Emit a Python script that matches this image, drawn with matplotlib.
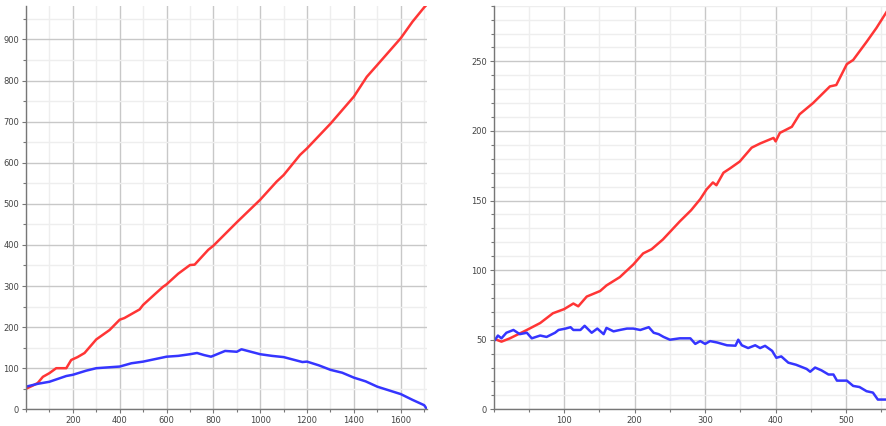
import matplotlib
matplotlib.use("Agg")
import matplotlib.pyplot as plt
from matplotlib.ticker import MultipleLocator

# left panel: values
left_red_x = [0, 30, 50, 72, 100, 129, 150, 172, 193, 220, 250, 300, 357, 400, 420,
              485, 500, 550, 585, 600, 650, 700, 720, 778, 800, 900, 1000, 1070,
              1100, 1170, 1200, 1300, 1400, 1455, 1500, 1600, 1650, 1700, 1712]
left_red_y = [50, 58, 64, 79, 88, 100, 100, 100, 120, 127, 137, 170, 193, 218, 222,
              243, 254, 280, 298, 304, 330, 351, 352, 388, 398, 455, 510, 554,
              570, 619, 635, 695, 761, 809, 838, 903, 943, 978, 985]

left_blue_x = [0, 50, 100, 172, 200, 257, 300, 350, 400, 450, 500, 600, 650, 700,
               730, 760, 790, 850, 900, 920, 1000, 1050, 1100, 1180, 1200, 1250,
               1300, 1350, 1400, 1450, 1500, 1550, 1600, 1650, 1700, 1712]
left_blue_y = [55, 62, 67, 81, 84, 94, 100, 102, 104, 112, 116, 128, 130, 134,
               137, 132, 128, 142, 140, 146, 134, 130, 127, 115, 116, 107,
               96, 89, 77, 68, 55, 46, 37, 23, 10, 0]

# right panel
right_red_x = [4, 11, 23, 35, 47, 66, 84, 100, 113, 120, 132, 151, 160, 179, 198,
               212, 224, 240, 264, 280, 293, 302, 311, 316, 326, 335, 349, 366,
               378, 397, 400, 406, 423, 434, 453, 467, 477, 486, 501, 510, 529,
               543, 558]
right_red_y = [50, 48.6, 51, 54, 57, 62, 69, 72, 76, 74, 81, 85, 89, 95, 104,
               112, 115, 122, 135, 143, 151, 158, 163, 161, 170, 173, 178, 188,
               191, 195, 192.5, 198.6, 203, 212, 220, 227, 232, 233, 248, 251,
               264, 274, 286]

right_blue_x = [2, 6, 11, 18, 28, 37, 47, 54, 66, 75, 87, 92, 102, 109, 113, 123,
                129, 139, 147, 156, 160, 170, 179, 189, 198, 208, 220, 227, 234,
                241, 250, 264, 279, 286, 293, 300, 307, 317, 331, 343, 347, 352,
                361, 371, 378, 385, 395, 401, 408, 418, 429, 444, 449, 456, 465,
                475, 482, 487, 501, 510, 519, 529, 538, 545, 558]
right_blue_y = [50, 53, 51, 55, 57, 54, 55, 51, 53, 52, 55, 57, 58, 59, 57, 57,
                60, 55, 58, 54, 58.5, 56, 57, 58, 58, 57, 59, 55, 54,
                52, 50, 51, 51, 47, 49, 47, 49, 48, 46, 45.7, 50, 46,
                44, 46, 44, 45.6, 42, 37, 38, 33.5, 32, 29, 27, 30, 28,
                25, 25, 20.6, 20.6, 16.8, 16, 13, 12, 7, 7]

RED = "#ff3535"
BLUE = "#3535ff"

fig = plt.figure(figsize=(8.87, 4.26), dpi=100)
W, H = 887.0, 426.0
ax1 = fig.add_axes([26 / W, 1 - 409.3 / H, (427 - 26) / W, (409.3 - 5.7) / H])
ax2 = fig.add_axes([493.7 / W, 1 - 409.3 / H, (887 - 493.7) / W, (409.3 - 5.7) / H])


def style(ax, xmaj, xmin, ymaj, ymin):
    ax.xaxis.set_major_locator(MultipleLocator(xmaj))
    ax.xaxis.set_minor_locator(MultipleLocator(xmin))
    ax.yaxis.set_major_locator(MultipleLocator(ymaj))
    ax.yaxis.set_minor_locator(MultipleLocator(ymin))
    ax.grid(which="major", color="#c8c8c8", lw=1.0)
    ax.grid(which="minor", color="#eeeeee", lw=1.0)
    ax.set_axisbelow(True)
    for s in ("top", "right"):
        ax.spines[s].set_visible(False)
    for s in ("left", "bottom"):
        ax.spines[s].set_color("#777777")
        ax.spines[s].set_linewidth(1.0)
    ax.tick_params(which="major", length=3, width=0.8, color="#777777",
                   labelsize=6, labelcolor="#444444", pad=2)
    ax.tick_params(which="minor", length=2, width=0.8, color="#777777")


ax1.plot(left_red_x, left_red_y, color=RED, lw=1.8)
ax1.plot(left_blue_x, left_blue_y, color=BLUE, lw=1.8)
ax1.set_xlim(0, 1712)
ax1.set_ylim(0, 982)
style(ax1, 200, 100, 100, 50)
ax1.set_xticks([200, 400, 600, 800, 1000, 1200, 1400, 1600])
ax1.set_yticks(range(0, 1000, 100))

ax2.plot(right_red_x, right_red_y, color=RED, lw=1.8)
ax2.plot(right_blue_x, right_blue_y, color=BLUE, lw=1.8)
ax2.set_xlim(0, 558)
ax2.set_ylim(0, 290)
style(ax2, 100, 50, 50, 10)
ax2.set_xticks([100, 200, 300, 400, 500])

fig.savefig("out.png", dpi=100)
